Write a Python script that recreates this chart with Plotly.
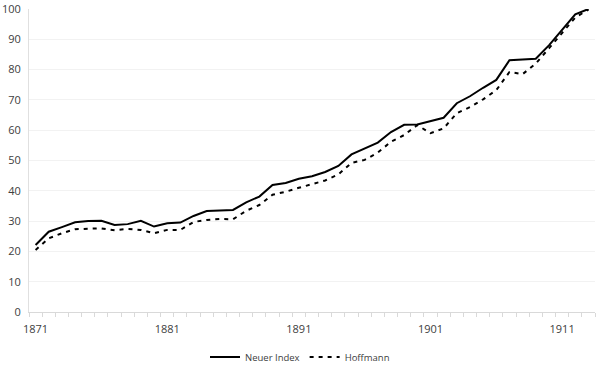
import plotly.graph_objects as go

years = list(range(1871, 1914))
neuer_index = [22.1, 26.5, 28.0, 29.6, 30.0, 30.1, 28.7, 29.0, 30.1, 28.2,
               29.3, 29.5, 31.7, 33.3, 33.5, 33.7, 36.2, 38.1, 41.9, 42.6,
               44.0, 44.8, 46.2, 48.2, 52.0, 53.9, 55.9, 59.4, 61.8, 61.9,
               63.0, 64.1, 68.9, 71.2, 74.0, 76.6, 83.1, 83.3, 83.6, 88.0,
               93.0, 98.2, 100.0]
hoffmann = [20.5, 24.3, 26.0, 27.3, 27.5, 27.6, 27.0, 27.4, 27.1, 26.0,
            27.1, 27.1, 29.7, 30.4, 30.7, 30.6, 33.4, 35.3, 38.7, 39.7,
            41.0, 42.1, 43.4, 45.4, 49.2, 50.2, 52.6, 56.2, 58.4, 61.7,
            59.0, 60.6, 65.6, 67.6, 70.2, 73.2, 79.2, 78.5, 82.0, 87.0,
            92.0, 97.2, 99.8]
tick_years = [1871, 1881, 1891, 1901, 1911]

fig = go.Figure()
fig.add_trace(go.Scatter(x=years, y=neuer_index, mode="lines", name="Neuer Index",
                         line=dict(color="#000000", width=2)))
fig.add_trace(go.Scatter(x=years, y=hoffmann, mode="lines", name="Hoffmann",
                         line=dict(color="#000000", width=2, dash="4px,5px")))

fig.update_layout(
    width=600, height=375,
    margin=dict(l=29, r=5, t=9, b=63, autoexpand=False),
    paper_bgcolor="white", plot_bgcolor="white",
    font=dict(family="Open Sans, Noto Sans, sans-serif", size=11, color="#404040"),
    legend=dict(orientation="h", xref="container", x=0.5, xanchor="center",
                y=-0.1485, yanchor="middle",
                font=dict(size=9.5, color="#404040"), itemwidth=30, tracegroupgap=0),
    showlegend=True,
)
fig.update_xaxes(
    range=[1870.5, 1913.5], tickmode="array", tickvals=tick_years,
    ticktext=[str(t) for t in tick_years], automargin=False,
    showgrid=False, zeroline=False,
    showline=True, linecolor="#d9d9d9", linewidth=1,
    ticks="outside", ticklen=7, tickcolor="rgba(0,0,0,0)",
    tickfont=dict(size=11, color="#404040"),
    minor=dict(ticks="outside", tick0=1870.5, dtick=1, ticklen=4,
               tickcolor="#d9d9d9", showgrid=False),
)
fig.update_yaxes(
    range=[0, 100], tickmode="linear", tick0=0, dtick=10, automargin=False,
    showgrid=True, gridcolor="#f2f2f2", gridwidth=1,
    zeroline=False, showline=True, linecolor="#e0e0e0", linewidth=1,
    ticks="outside", ticklen=5, tickcolor="rgba(0,0,0,0)",
    tickfont=dict(size=11, color="#404040"),
)

fig.write_html("out.html", config={"displayModeBar": False},
               post_script="document.body.style.margin='0';")
